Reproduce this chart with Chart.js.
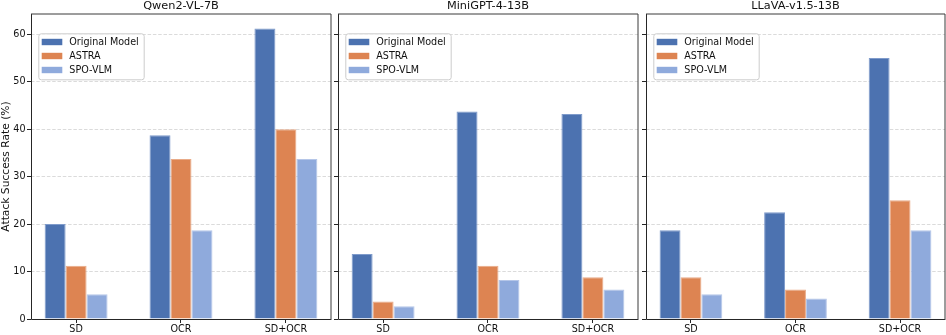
<!DOCTYPE html>
<html><head><meta charset="utf-8">
<script src="https://cdn.jsdelivr.net/npm/chart.js@4.4.1/dist/chart.umd.min.js"></script>
<style>
html,body{margin:0;padding:0;background:#fff;}
body{width:946px;height:335px;position:relative;overflow:hidden;}
.p{position:absolute;top:0;height:335px;}
canvas{display:block;}
</style></head><body>
<div class="p" style="left:0;width:334px"><canvas id="c0" width="334" height="335"></canvas></div>
<div class="p" style="left:334px;width:308px"><canvas id="c1" width="308" height="335"></canvas></div>
<div class="p" style="left:642px;width:304px"><canvas id="c2" width="304" height="335"></canvas></div>
<script>
const categories = ['SD', 'OCR', 'SD+OCR'];
const seriesNames = ['Original Model', 'ASTRA', 'SPO-VLM'];
const panelTitles = ['Qwen2-VL-7B', 'MiniGPT-4-13B', 'LLaVA-v1.5-13B'];
const yLabel = 'Attack Success Rate (%)';
const yTicks = [0, 10, 20, 30, 40, 50, 60];

const qwenOriginal = [20.0, 38.7, 61.2];
const qwenAstra = [11.2, 33.7, 40.0];
const qwenSpo = [5.2, 18.7, 33.7];

const minigptOriginal = [13.7, 43.7, 43.2];
const minigptAstra = [3.7, 11.2, 8.8];
const minigptSpo = [2.7, 8.2, 6.2];

const llavaOriginal = [18.7, 22.5, 55.0];
const llavaAstra = [8.8, 6.2, 25.0];
const llavaSpo = [5.2, 4.3, 18.7];

const panelSeries = [
  [qwenOriginal, qwenAstra, qwenSpo],
  [minigptOriginal, minigptAstra, minigptSpo],
  [llavaOriginal, llavaAstra, llavaSpo]
];

const colors = ['#4C72B0', '#DD8452', '#8FAADC'];
const edgeColors = ['#7f9bcb', '#e9ab88', '#b5c6e8'];
const FAMILY = "'DejaVu Sans', 'Liberation Sans', sans-serif";

const panels = [
  {id: 'c0', yW: 31, padR: 3, showY: true},
  {id: 'c1', yW: 4, padR: 4, showY: false},
  {id: 'c2', yW: 4, padR: 1, showY: false}
];

function makePlugin(pi) {
  return {
    id: 'deco' + pi,
    afterDatasetsDraw(chart) {
      const ctx = chart.ctx, ca = chart.chartArea;
      ctx.save();
      // legend
      ctx.font = '9.6px ' + FAMILY;
      const tw = Math.max(...seriesNames.map(n => ctx.measureText(n).width));
      const fx = ca.left + 7.3, fy = ca.top + 19.3, fw = 31 + tw + 5, fh = 46;
      ctx.beginPath();
      ctx.roundRect(fx + 0.5, fy + 0.5, fw, fh, 2.5);
      ctx.fillStyle = 'rgba(255,255,255,0.8)';
      ctx.fill();
      ctx.strokeStyle = '#cccccc';
      ctx.lineWidth = 1;
      ctx.stroke();
      ctx.textBaseline = 'middle';
      ctx.textAlign = 'left';
      seriesNames.forEach((n, i) => {
        const cy = fy + 8.7 + i * 14;
        ctx.fillStyle = colors[i];
        ctx.fillRect(fx + 3.4, cy - 3.2, 20.6, 6.4);
        ctx.fillStyle = '#111';
        ctx.fillText(n, fx + 31, cy + 0.3);
      });
      // spines
      ctx.strokeStyle = '#262626';
      ctx.lineWidth = 1;
      ctx.beginPath();
      ctx.moveTo(Math.round(ca.left) + 0.5, ca.top);
      ctx.lineTo(Math.round(ca.left) + 0.5, Math.round(ca.bottom) + 0.5);
      ctx.lineTo(ca.right, Math.round(ca.bottom) + 0.5);
      ctx.stroke();
      ctx.strokeStyle = '#3a3a3a';
      ctx.beginPath();
      ctx.moveTo(Math.round(ca.left), ca.top);
      ctx.lineTo(ca.right, ca.top);
      ctx.lineTo(ca.right, Math.round(ca.bottom) + 1);
      ctx.stroke();
      // title
      ctx.font = '11.3px ' + FAMILY;
      ctx.fillStyle = '#111';
      ctx.textAlign = 'center';
      ctx.textBaseline = 'alphabetic';
      ctx.fillText(panelTitles[pi], (ca.left + ca.right) / 2, 8.6);
      ctx.restore();
    }
  };
}

panels.forEach((p, pi) => {
  const datasets = seriesNames.map((name, si) => ({
    label: name,
    data: panelSeries[pi][si].map((v, ci) => ({x: ci, y: v})),
    backgroundColor: colors[si],
    borderColor: edgeColors[si],
    borderWidth: 1,
    categoryPercentage: 0.6,
    barPercentage: 1.0
  }));
  new Chart(document.getElementById(p.id), {
    type: 'bar',
    data: {datasets},
    plugins: [makePlugin(pi)],
    options: {
      responsive: false,
      animation: false,
      devicePixelRatio: 1,
      layout: {padding: {top: 14, right: p.padR, left: 0, bottom: 0}},
      plugins: {legend: {display: false}, tooltip: {enabled: false}, title: {display: false}},
      scales: {
        x: {
          type: 'linear', min: -0.43, max: 2.43, offset: false,
          afterBuildTicks: s => { s.ticks = categories.map((c, i) => ({value: i})); },
          afterFit: s => { s.height = 16; },
          ticks: {autoSkip: false, maxRotation: 0, padding: 1, color: '#111',
                  font: {family: FAMILY, size: 9.6},
                  callback: v => (categories[v] !== undefined ? categories[v] : '')},
          grid: {offset: false, drawOnChartArea: false, drawTicks: true, tickLength: 4, tickColor: '#262626', tickWidth: 1},
          border: {display: false}
        },
        y: {
          min: 0, max: 64.26,
          afterBuildTicks: s => { s.ticks = yTicks.map(v => ({value: v})); },
          afterFit: s => { s.width = p.yW; },
          ticks: {display: p.showY, padding: 1.5, color: '#111', font: {family: FAMILY, size: 9.6}},
          grid: {color: '#d2d2d2', lineWidth: 0.8, drawTicks: true, tickLength: 4,
                 tickColor: '#262626', tickWidth: 1, tickBorderDash: []},
          border: {display: false, dash: [3.5, 1.8]},
          title: {display: p.showY, text: yLabel, color: '#111',
                  font: {family: FAMILY, size: 10.7}, padding: {top: 0, bottom: 0}}
        }
      }
    }
  });
});
</script>
</body></html>
